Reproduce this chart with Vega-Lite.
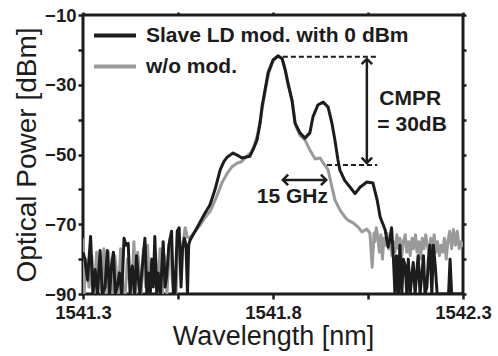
{
  "$schema": "https://vega.github.io/schema/vega-lite/v6.json",
  "width": 380,
  "height": 279,
  "autosize": {"type": "none"},
  "padding": {"left": 83, "top": 15, "right": 35, "bottom": 62},
  "background": "white",
  "datasets": {
    "mod": [
      {"nm":1541.300,"dBm":-78},{"nm":1541.305,"dBm":-80},{"nm":1541.312,"dBm":-86},{"nm":1541.320,"dBm":-73.5},
      {"nm":1541.326,"dBm":-90},{"nm":1541.332,"dBm":-83},{"nm":1541.338,"dBm":-90},{"nm":1541.345,"dBm":-77.5},
      {"nm":1541.351,"dBm":-90},{"nm":1541.358,"dBm":-88},{"nm":1541.364,"dBm":-77.5},{"nm":1541.370,"dBm":-90},
      {"nm":1541.375,"dBm":-82},{"nm":1541.380,"dBm":-78},{"nm":1541.385,"dBm":-90},{"nm":1541.390,"dBm":-88},
      {"nm":1541.396,"dBm":-84},{"nm":1541.402,"dBm":-90},{"nm":1541.408,"dBm":-74},{"nm":1541.413,"dBm":-76},
      {"nm":1541.419,"dBm":-75.5},{"nm":1541.424,"dBm":-90},{"nm":1541.430,"dBm":-82},{"nm":1541.436,"dBm":-90},
      {"nm":1541.441,"dBm":-79},{"nm":1541.446,"dBm":-86},{"nm":1541.450,"dBm":-90},{"nm":1541.457,"dBm":-81},
      {"nm":1541.463,"dBm":-74},{"nm":1541.468,"dBm":-90},{"nm":1541.472,"dBm":-84},{"nm":1541.477,"dBm":-90},
      {"nm":1541.481,"dBm":-80},{"nm":1541.485,"dBm":-88},{"nm":1541.489,"dBm":-73.5},{"nm":1541.494,"dBm":-90},
      {"nm":1541.498,"dBm":-84},{"nm":1541.504,"dBm":-90},{"nm":1541.511,"dBm":-75},{"nm":1541.516,"dBm":-88},
      {"nm":1541.520,"dBm":-85},{"nm":1541.526,"dBm":-76},{"nm":1541.533,"dBm":-72},{"nm":1541.538,"dBm":-90},
      {"nm":1541.542,"dBm":-90},{"nm":1541.548,"dBm":-72},{"nm":1541.553,"dBm":-71},{"nm":1541.558,"dBm":-88},
      {"nm":1541.562,"dBm":-77},{"nm":1541.567,"dBm":-74},{"nm":1541.571,"dBm":-76},{"nm":1541.575,"dBm":-90},
      {"nm":1541.578,"dBm":-76},{"nm":1541.582,"dBm":-74.5},
      {"nm":1541.595,"dBm":-72},{"nm":1541.608,"dBm":-69.4},{"nm":1541.620,"dBm":-67},{"nm":1541.634,"dBm":-64.5},
      {"nm":1541.647,"dBm":-60.2},{"nm":1541.661,"dBm":-54.4},{"nm":1541.671,"dBm":-52},{"nm":1541.679,"dBm":-50.8},
      {"nm":1541.695,"dBm":-49.6},{"nm":1541.708,"dBm":-50.3},{"nm":1541.718,"dBm":-51},{"nm":1541.739,"dBm":-50.5},
      {"nm":1541.750,"dBm":-48},{"nm":1541.758,"dBm":-45.8},{"nm":1541.766,"dBm":-41},{"nm":1541.771,"dBm":-36.4},
      {"nm":1541.779,"dBm":-31.5},{"nm":1541.787,"dBm":-26.6},{"nm":1541.800,"dBm":-22.9},{"nm":1541.813,"dBm":-21.7},
      {"nm":1541.824,"dBm":-22.5},{"nm":1541.832,"dBm":-25.7},{"nm":1541.839,"dBm":-29.4},{"nm":1541.850,"dBm":-34.4},
      {"nm":1541.858,"dBm":-41},{"nm":1541.871,"dBm":-43.8},{"nm":1541.884,"dBm":-45.3},{"nm":1541.897,"dBm":-43.8},
      {"nm":1541.905,"dBm":-39.3},{"nm":1541.918,"dBm":-35.8},{"nm":1541.932,"dBm":-35},{"nm":1541.945,"dBm":-36.4},
      {"nm":1541.955,"dBm":-41},{"nm":1541.963,"dBm":-45.9},{"nm":1541.971,"dBm":-51.6},{"nm":1541.976,"dBm":-54.5},
      {"nm":1541.989,"dBm":-57.5},{"nm":1542.003,"dBm":-59.4},{"nm":1542.016,"dBm":-61.2},{"nm":1542.029,"dBm":-59.4},
      {"nm":1542.047,"dBm":-57.9},{"nm":1542.063,"dBm":-58.2},{"nm":1542.074,"dBm":-63},{"nm":1542.082,"dBm":-67.9},
      {"nm":1542.095,"dBm":-71.6},{"nm":1542.103,"dBm":-76.5},
      {"nm":1542.108,"dBm":-74},{"nm":1542.112,"dBm":-71},{"nm":1542.117,"dBm":-80},{"nm":1542.121,"dBm":-90},
      {"nm":1542.125,"dBm":-79},{"nm":1542.130,"dBm":-90},{"nm":1542.134,"dBm":-76},{"nm":1542.139,"dBm":-90},
      {"nm":1542.143,"dBm":-80},{"nm":1542.148,"dBm":-82},{"nm":1542.152,"dBm":-90},{"nm":1542.156,"dBm":-80},
      {"nm":1542.161,"dBm":-90},{"nm":1542.165,"dBm":-85},{"nm":1542.169,"dBm":-81},{"nm":1542.174,"dBm":-90},
      {"nm":1542.178,"dBm":-84},{"nm":1542.182,"dBm":-79},{"nm":1542.187,"dBm":-90},{"nm":1542.191,"dBm":-85},
      {"nm":1542.196,"dBm":-79},{"nm":1542.200,"dBm":-90},{"nm":1542.205,"dBm":-88},{"nm":1542.209,"dBm":-80},
      {"nm":1542.213,"dBm":-76},{"nm":1542.218,"dBm":-90},{"nm":1542.222,"dBm":-76},{"nm":1542.227,"dBm":-82},
      {"nm":1542.232,"dBm":-90},{"nm":1542.262,"dBm":-90},{"nm":1542.266,"dBm":-80},{"nm":1542.270,"dBm":-90},
      {"nm":1542.300,"dBm":-90}
    ],
    "womod": [
      {"nm":1541.300,"dBm":-74},{"nm":1541.303,"dBm":-90},{"nm":1541.308,"dBm":-80},{"nm":1541.316,"dBm":-88},
      {"nm":1541.323,"dBm":-79},{"nm":1541.329,"dBm":-90},{"nm":1541.336,"dBm":-78},{"nm":1541.342,"dBm":-86},
      {"nm":1541.349,"dBm":-90},{"nm":1541.355,"dBm":-77},{"nm":1541.361,"dBm":-90},{"nm":1541.367,"dBm":-78},
      {"nm":1541.373,"dBm":-85},{"nm":1541.378,"dBm":-90},{"nm":1541.384,"dBm":-79},{"nm":1541.393,"dBm":-90},
      {"nm":1541.399,"dBm":-77},{"nm":1541.405,"dBm":-88},{"nm":1541.411,"dBm":-90},{"nm":1541.417,"dBm":-80},
      {"nm":1541.422,"dBm":-86},{"nm":1541.428,"dBm":-90},{"nm":1541.434,"dBm":-75},{"nm":1541.439,"dBm":-90},
      {"nm":1541.444,"dBm":-78},{"nm":1541.453,"dBm":-90},{"nm":1541.459,"dBm":-77},{"nm":1541.465,"dBm":-88},
      {"nm":1541.470,"dBm":-76},{"nm":1541.476,"dBm":-90},{"nm":1541.483,"dBm":-82},{"nm":1541.491,"dBm":-78},
      {"nm":1541.497,"dBm":-90},{"nm":1541.503,"dBm":-77},{"nm":1541.509,"dBm":-90},{"nm":1541.514,"dBm":-79},
      {"nm":1541.521,"dBm":-90},{"nm":1541.529,"dBm":-74},{"nm":1541.535,"dBm":-86},{"nm":1541.540,"dBm":-90},
      {"nm":1541.545,"dBm":-90},{"nm":1541.550,"dBm":-73},{"nm":1541.556,"dBm":-79},{"nm":1541.563,"dBm":-75},
      {"nm":1541.569,"dBm":-71},{"nm":1541.574,"dBm":-73.5},{"nm":1541.580,"dBm":-74},
      {"nm":1541.595,"dBm":-72},{"nm":1541.610,"dBm":-70},{"nm":1541.622,"dBm":-68},{"nm":1541.636,"dBm":-66},
      {"nm":1541.650,"dBm":-62.5},{"nm":1541.666,"dBm":-58},{"nm":1541.679,"dBm":-55.5},{"nm":1541.692,"dBm":-53.5},
      {"nm":1541.705,"dBm":-52.5},{"nm":1541.718,"dBm":-52},{"nm":1541.731,"dBm":-50.5},{"nm":1541.742,"dBm":-49.5},
      {"nm":1541.752,"dBm":-47},{"nm":1541.760,"dBm":-44},{"nm":1541.767,"dBm":-40},{"nm":1541.773,"dBm":-35.8},
      {"nm":1541.781,"dBm":-31},{"nm":1541.789,"dBm":-26.5},{"nm":1541.801,"dBm":-23},{"nm":1541.813,"dBm":-21.8},
      {"nm":1541.824,"dBm":-22.6},{"nm":1541.833,"dBm":-26},{"nm":1541.840,"dBm":-30},{"nm":1541.851,"dBm":-35},
      {"nm":1541.859,"dBm":-41.5},{"nm":1541.871,"dBm":-44.5},{"nm":1541.884,"dBm":-45.8},{"nm":1541.897,"dBm":-48.7},
      {"nm":1541.911,"dBm":-51.3},{"nm":1541.924,"dBm":-51},{"nm":1541.932,"dBm":-52.4},{"nm":1541.945,"dBm":-54.4},
      {"nm":1541.955,"dBm":-59.3},{"nm":1541.963,"dBm":-63},{"nm":1541.976,"dBm":-65.9},{"nm":1541.989,"dBm":-67.9},
      {"nm":1541.997,"dBm":-68.8},{"nm":1542.011,"dBm":-69.6},{"nm":1542.024,"dBm":-70.8},{"nm":1542.034,"dBm":-72.2},
      {"nm":1542.047,"dBm":-71.4},{"nm":1542.055,"dBm":-72.5},{"nm":1542.061,"dBm":-82.3},{"nm":1542.066,"dBm":-72.5},
      {"nm":1542.068,"dBm":-75},{"nm":1542.072,"dBm":-71},{"nm":1542.076,"dBm":-74},{"nm":1542.080,"dBm":-78},
      {"nm":1542.084,"dBm":-73},{"nm":1542.088,"dBm":-80},{"nm":1542.092,"dBm":-74},{"nm":1542.096,"dBm":-76},
      {"nm":1542.100,"dBm":-72.5},{"nm":1542.104,"dBm":-77},{"nm":1542.108,"dBm":-74},{"nm":1542.113,"dBm":-79},
      {"nm":1542.117,"dBm":-75},{"nm":1542.121,"dBm":-78},{"nm":1542.126,"dBm":-73},{"nm":1542.130,"dBm":-77},
      {"nm":1542.134,"dBm":-74},{"nm":1542.139,"dBm":-79},{"nm":1542.143,"dBm":-75},{"nm":1542.148,"dBm":-73},
      {"nm":1542.152,"dBm":-78},{"nm":1542.157,"dBm":-75},{"nm":1542.161,"dBm":-79},{"nm":1542.166,"dBm":-74},
      {"nm":1542.170,"dBm":-77},{"nm":1542.175,"dBm":-73},{"nm":1542.179,"dBm":-78},{"nm":1542.184,"dBm":-75},
      {"nm":1542.188,"dBm":-80},{"nm":1542.193,"dBm":-74},{"nm":1542.197,"dBm":-77},{"nm":1542.202,"dBm":-73},
      {"nm":1542.206,"dBm":-76},{"nm":1542.211,"dBm":-79},{"nm":1542.215,"dBm":-74},{"nm":1542.220,"dBm":-77},
      {"nm":1542.224,"dBm":-73},{"nm":1542.229,"dBm":-78},{"nm":1542.233,"dBm":-75},{"nm":1542.238,"dBm":-79},
      {"nm":1542.242,"dBm":-76},{"nm":1542.247,"dBm":-78},{"nm":1542.251,"dBm":-74},{"nm":1542.256,"dBm":-80},
      {"nm":1542.260,"dBm":-75},{"nm":1542.265,"dBm":-72},{"nm":1542.270,"dBm":-77},{"nm":1542.275,"dBm":-71.5},
      {"nm":1542.280,"dBm":-76},{"nm":1542.285,"dBm":-72},{"nm":1542.290,"dBm":-77},{"nm":1542.295,"dBm":-75},
      {"nm":1542.300,"dBm":-76.5}
    ],
    "rules": [
      {"kind":"dash","x0":1541.826,"x1":1542.074,"y0":-22,"y1":-22},
      {"kind":"dash","x0":1541.942,"x1":1542.074,"y0":-53,"y1":-53},
      {"kind":"solid","x0":1542.047,"x1":1542.047,"y0":-22.6,"y1":-52.4},
      {"kind":"solid","x0":1541.826,"x1":1541.940,"y0":-57.3,"y1":-57.3}
    ],
    "heads": [
      {"x":1542.047,"y":-22.6,"angle":270},
      {"x":1542.047,"y":-52.4,"angle":90},
      {"x":1541.826,"y":-57.3,"angle":180},
      {"x":1541.940,"y":-57.3,"angle":0}
    ],
    "labels": [
      {"x":1542.161,"y":-34.2,"text":"CMPR"},
      {"x":1542.166,"y":-41.4,"text":"= 30dB"},
      {"x":1541.851,"y":-62.2,"text":"15 GHz"}
    ]
  },
  "resolve": {"axis": {"x": "independent", "y": "independent"}},
  "layer": [
    {
      "data": {"name": "womod"},
      "mark": {"type": "line", "strokeWidth": 3, "clip": true, "strokeJoin": "round"},
      "encoding": {
        "x": {"field": "nm", "type": "quantitative",
              "scale": {"domain": [1541.3, 1542.3], "nice": false, "zero": false},
              "axis": {"orient": "bottom", "title": "Wavelength [nm]", "values": [1541.3, 1541.55, 1541.8, 1542.05, 1542.3],
                       "labelExpr": "(datum.value == 1541.55 || datum.value == 1542.05) ? '' : format(datum.value, '.1f')",
                       "labelFlush": false, "labelPadding": 4, "titlePadding": 2, "titleFontSize": 27}},
        "y": {"field": "dBm", "type": "quantitative",
              "scale": {"domain": [-90, -10], "nice": false, "zero": false},
              "axis": {"orient": "left", "title": "Optical Power [dBm]", "values": [-90, -80, -70, -60, -50, -40, -30, -20, -10],
                       "labelExpr": "(datum.value == -80 || datum.value == -60 || datum.value == -40 || datum.value == -20) ? '' : format(datum.value, 'd')",
                       "labelPadding": 2, "titlePadding": 3}},
        "color": {"datum": "w/o mod.", "type": "nominal",
                  "scale": {"domain": ["Slave LD mod. with 0 dBm", "w/o mod."], "range": ["#1c1c1c", "#9a9a9a"]},
                  "legend": {"orient": "none", "legendX": 30, "legendY": 8, "title": null,
                             "symbolType": "M-3,0L1,0", "symbolSize": 441, "symbolStrokeWidth": 4,
                             "labelFont": "Liberation Sans", "labelFontWeight": "bold", "labelFontSize": 21,
                             "labelLimit": 0, "labelColor": "#1c1c1c", "labelOffset": 8, "rowPadding": 8, "padding": 0}}
      }
    },
    {
      "data": {"name": "mod"},
      "mark": {"type": "line", "strokeWidth": 3, "clip": true, "strokeJoin": "round"},
      "encoding": {
        "x": {"field": "nm", "type": "quantitative", "axis": null},
        "y": {"field": "dBm", "type": "quantitative", "axis": null},
        "color": {"datum": "Slave LD mod. with 0 dBm", "type": "nominal"}
      }
    },
    {
      "data": {"name": "rules"},
      "transform": [{"filter": "datum.kind == 'dash'"}],
      "mark": {"type": "rule", "strokeWidth": 2, "strokeDash": [5, 3], "color": "#1c1c1c"},
      "encoding": {
        "x": {"field": "x0", "type": "quantitative", "axis": null},
        "x2": {"field": "x1"},
        "y": {"field": "y0", "type": "quantitative", "axis": null},
        "y2": {"field": "y1"}
      }
    },
    {
      "data": {"name": "rules"},
      "transform": [{"filter": "datum.kind == 'solid'"}],
      "mark": {"type": "rule", "strokeWidth": 2.5, "color": "#1c1c1c"},
      "encoding": {
        "x": {"field": "x0", "type": "quantitative", "axis": null},
        "x2": {"field": "x1"},
        "y": {"field": "y0", "type": "quantitative", "axis": null},
        "y2": {"field": "y1"}
      }
    },
    {
      "data": {"name": "heads"},
      "mark": {"type": "point", "shape": "M-1,-1L0,0L-1,1", "size": 110, "filled": false, "stroke": "#1c1c1c", "strokeWidth": 2.5, "opacity": 1},
      "encoding": {
        "x": {"field": "x", "type": "quantitative", "axis": null},
        "y": {"field": "y", "type": "quantitative", "axis": null},
        "angle": {"field": "angle", "type": "quantitative", "scale": null}
      }
    },
    {
      "data": {"name": "labels"},
      "mark": {"type": "text", "font": "Liberation Sans", "fontWeight": "bold", "fontSize": 21, "color": "#1c1c1c", "align": "center", "baseline": "middle"},
      "encoding": {
        "x": {"field": "x", "type": "quantitative",
              "axis": {"orient": "top", "title": null, "labels": false, "values": [1541.3, 1541.55, 1541.8, 1542.05, 1542.3], "tickSize": 3}},
        "y": {"field": "y", "type": "quantitative",
              "axis": {"orient": "right", "title": null, "labels": false, "values": [-90, -80, -70, -60, -50, -40, -30, -20, -10], "tickSize": 3}},
        "text": {"field": "text"}
      }
    }
  ],
  "config": {
    "view": {"stroke": "#1c1c1c", "strokeWidth": 3},
    "axis": {"domain": false, "grid": false, "labelFont": "Liberation Sans", "labelFontWeight": "bold", "labelFontSize": 18.5,
             "labelColor": "#1c1c1c", "tickColor": "#1c1c1c", "tickWidth": 2.5, "tickSize": 5,
             "titleFont": "Liberation Sans", "titleFontWeight": "normal", "titleFontSize": 28, "titleColor": "#1c1c1c"}
  }
}
